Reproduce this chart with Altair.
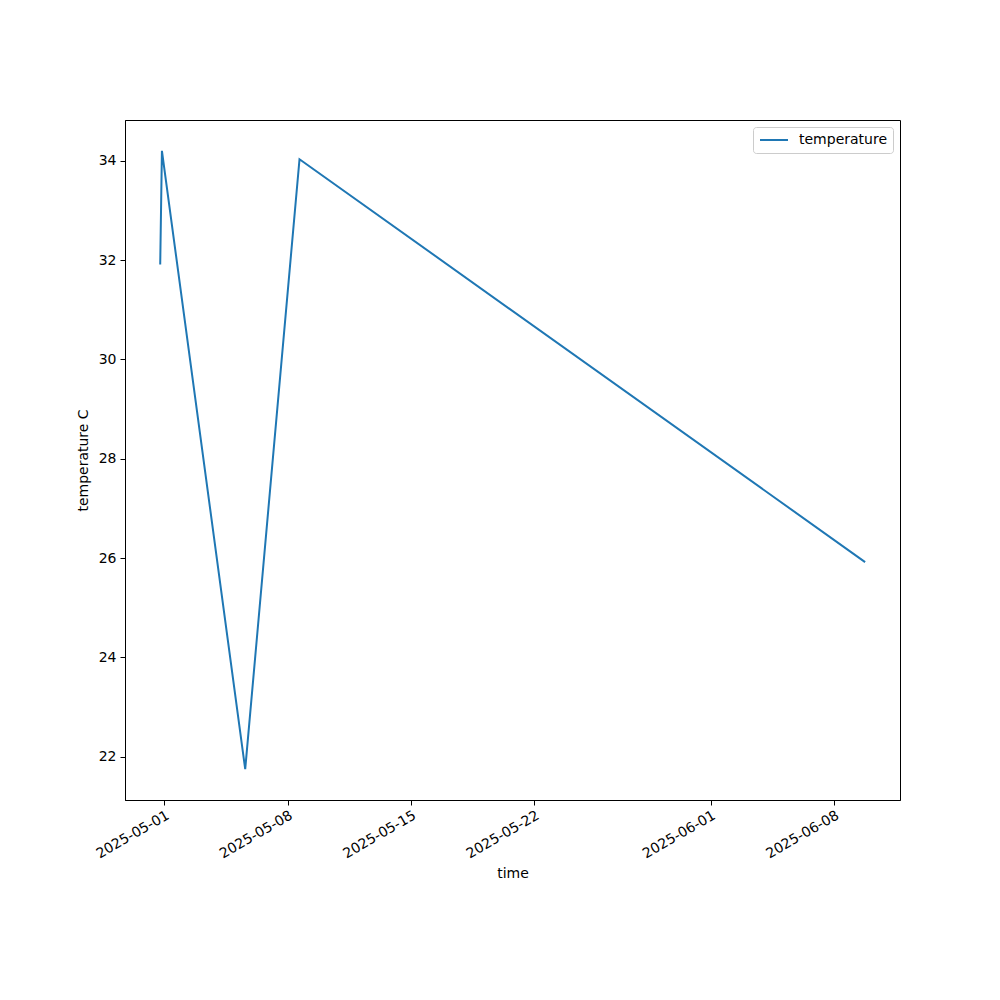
import altair as alt
import pandas as pd

times = [
    "2025-04-30T18:40:00",
    "2025-04-30T21:00:00",
    "2025-05-05T14:24:00",
    "2025-05-08T16:20:00",
    "2025-06-09T18:30:00",
]
temps = [31.91, 34.2, 21.75, 34.03, 25.92]
series = ["temperature"] * len(times)

x_ticks = ["2025-05-01", "2025-05-08", "2025-05-15", "2025-05-22", "2025-06-01", "2025-06-08"]
y_ticks = [22, 24, 26, 28, 30, 32, 34]

df = pd.DataFrame({"time": times, "temperature": temps, "series": series})

def dt(s, h=0, m=0):
    y, mo, d = [int(v) for v in s.split("-")]
    return alt.DateTime(year=y, month=mo, date=d, hours=h, minutes=m)

font = "DejaVu Sans"

chart = alt.Chart(df).mark_line(strokeWidth=2).encode(
    x=alt.X(
        "time:T",
        title="time",
        scale=alt.Scale(domain=[dt("2025-04-28", 18, 43), dt("2025-06-11", 18, 0)], nice=False),
        axis=alt.Axis(
            values=[dt(s) for s in x_ticks],
            format="%Y-%m-%d",
            labelAngle=-30,
            labelAlign="right",
            labelBaseline="top",
            grid=False,
            tickSize=5,
            labelPadding=3,
            titlePadding=6,
        ),
    ),
    y=alt.Y(
        "temperature:Q",
        title="temperature C",
        scale=alt.Scale(domain=[21.13, 34.82], nice=False, zero=False),
        axis=alt.Axis(values=y_ticks, grid=False, tickSize=5, labelPadding=4, titlePadding=8),
    ),
    color=alt.Color(
        "series:N",
        scale=alt.Scale(domain=["temperature"], range=["#1f77b4"]),
        legend=alt.Legend(
            title=None,
            orient="top-right",
            offset=7,
            symbolType="stroke",
            symbolSize=784,
            symbolStrokeWidth=2,
            labelFontSize=14,
            labelFont=font,
            labelColor="black",
            labelOffset=10,
            clipHeight=14,
            fillColor="white",
            strokeColor="#cccccc",
            cornerRadius=3,
            padding=6,
        ),
    ),
).properties(
    width=775,
    height=680,
    autosize=alt.AutoSizeParams(type="none"),
    padding={"left": 117, "top": 112, "right": 92, "bottom": 192},
).configure_view(
    stroke="black", strokeWidth=1
).configure_axis(
    labelFont=font,
    titleFont=font,
    labelFontSize=14,
    titleFontSize=14,
    titleFontWeight="normal",
    labelColor="black",
    titleColor="black",
    domainColor="black",
    tickColor="black",
)

chart.save("out.html", embed_options={"renderer": "svg", "actions": False})
